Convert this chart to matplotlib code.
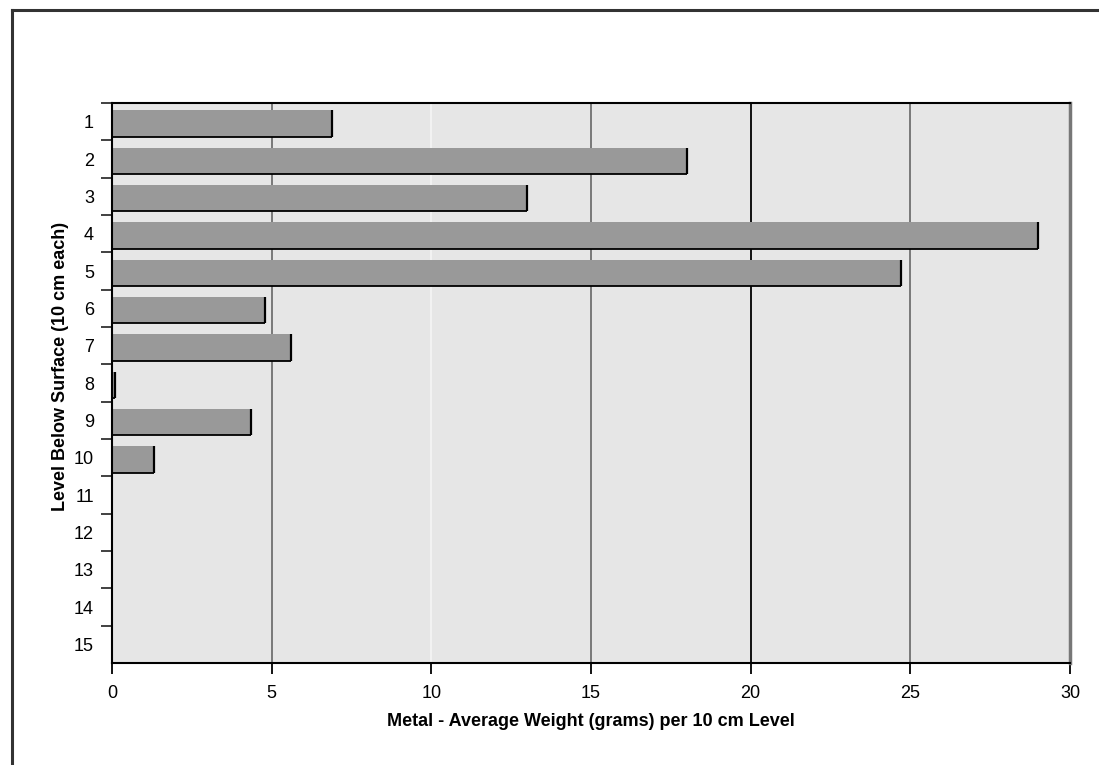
import matplotlib
matplotlib.use("Agg")
import matplotlib.pyplot as plt
from matplotlib.lines import Line2D

levels = [str(i) for i in range(1, 16)]
weights = [6.9, 18.0, 13.0, 29.0, 24.7, 4.8, 5.6, 0.1, 4.35, 1.3, 0, 0, 0, 0, 0]
x_ticks = [0, 5, 10, 15, 20, 25, 30]
grid_colors = {5: "#707070", 10: "#f4f4f4", 15: "#707070", 20: "#000000", 25: "#707070"}

plt.rcParams['font.family'] = ['Liberation Sans', 'DejaVu Sans']

fig = plt.figure(figsize=(10.99, 7.65), dpi=100)
fig.patch.set_facecolor("white")
# figure frame: top and left lines
fig.add_artist(Line2D([12/1099, 12/1099], [0, 1 - 10/765], transform=fig.transFigure, color="#333333", lw=2.2))
fig.add_artist(Line2D([12/1099, 1], [1 - 10/765, 1 - 10/765], transform=fig.transFigure, color="#333333", lw=2.2))

ax = fig.add_axes([112/1099, 1 - 663/765, (1070 - 112)/1099, (663 - 103)/765])
ax.set_facecolor("#e6e6e6")

pos = list(range(1, 16))
ax.set_xlim(0, 30)
ax.set_ylim(15.5, 0.5)

for xv, c in grid_colors.items():
    ax.axvline(xv, color=c, lw=1.3, zorder=1)

h = 0.70
off = 0.05
ax.barh([p + off for p in pos], weights, height=h, color="#999999", edgecolor="none", zorder=2)
for p, w in zip(pos, weights):
    if w > 0:
        yb = p + off + h / 2
        yt = p + off - h / 2
        ax.plot([0, w], [yb, yb], color="black", lw=1.3, zorder=3, solid_capstyle="butt")
        ax.plot([w, w], [yt, yb], color="black", lw=1.6, zorder=3, solid_capstyle="butt")

for s in ["top", "left", "bottom"]:
    ax.spines[s].set_color("black")
    ax.spines[s].set_linewidth(1.5)
ax.spines["right"].set_color("#777777")
ax.spines["right"].set_linewidth(2.5)

ax.set_xticks(x_ticks)
ax.set_xticklabels([str(t) for t in x_ticks], fontsize=13)
ax.tick_params(axis="x", direction="out", length=8, width=1.3, color="black", pad=8)

ax.set_yticks([p - 0.5 for p in pos])
ax.set_yticklabels([])
ax.tick_params(axis="y", which="major", direction="out", length=8, width=1.3, color="#333333")
ax.set_yticks(pos, minor=True)
ax.set_yticklabels(levels, minor=True, fontsize=13)
ax.tick_params(axis="y", which="minor", length=0, pad=13)

ax.set_xlabel("Metal - Average Weight (grams) per 10 cm Level", fontsize=13, fontweight="bold", labelpad=8)
ax.set_ylabel("Level Below Surface (10 cm each)", fontsize=13, fontweight="bold")
ax.yaxis.set_label_coords(-0.045, 0.529)

fig.savefig("out.png", dpi=100)
